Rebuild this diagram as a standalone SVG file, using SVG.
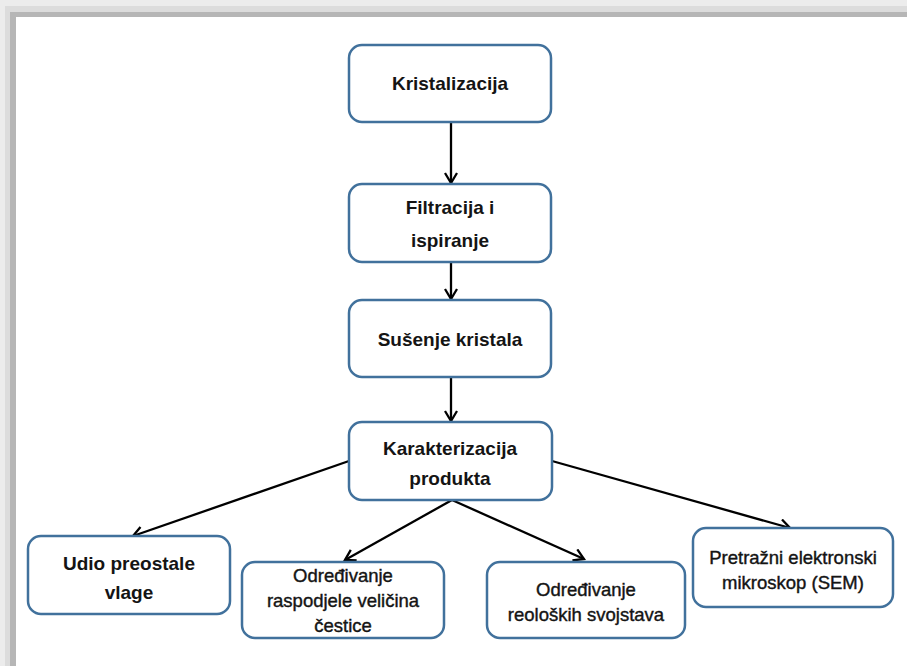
<svg xmlns="http://www.w3.org/2000/svg" width="907" height="666" viewBox="0 0 907 666">
<defs>
<style>
.box{fill:#fff;stroke:#41719c;stroke-width:2.5}
.t{font-family:"Liberation Sans",Arial,sans-serif;font-size:19px;font-weight:bold;fill:#141414;text-anchor:middle}
.s{font-family:"Liberation Sans",Arial,sans-serif;font-size:18.5px;fill:#141414;stroke:#141414;stroke-width:0.4;text-anchor:middle}
.c{fill:none;stroke:#000;stroke-width:2.3}
</style>
<marker id="ah" markerUnits="userSpaceOnUse" markerWidth="16" markerHeight="16" refX="11" refY="7" orient="auto">
<path d="M1,1 L11,7 L1,13" fill="none" stroke="#000" stroke-width="2.3"/>
</marker>
</defs>
<rect width="907" height="666" fill="#fff"/>
<g id="frame">
<rect x="0" y="0" width="907" height="6" fill="#ececec"/>
<rect x="5" y="6" width="902" height="6" fill="#dcdcdc"/>
<rect x="10" y="12" width="897" height="5" fill="#b6b6b6"/>
<rect x="0" y="6" width="5" height="660" fill="#ececec"/>
<rect x="5" y="12" width="5" height="654" fill="#dcdcdc"/>
<rect x="10" y="17" width="6" height="649" fill="#b6b6b6"/>
</g>
<g id="connectors">
<line class="c" x1="451" y1="122" x2="451" y2="183" marker-end="url(#ah)"/>
<line class="c" x1="451" y1="262" x2="451" y2="299" marker-end="url(#ah)"/>
<line class="c" x1="451" y1="377" x2="451" y2="421" marker-end="url(#ah)"/>
<line class="c" x1="349" y1="461" x2="133" y2="536" marker-end="url(#ah)"/>
<line class="c" x1="452" y1="500" x2="345" y2="560" marker-end="url(#ah)"/>
<line class="c" x1="452" y1="500" x2="584" y2="559" marker-end="url(#ah)"/>
<line class="c" x1="552" y1="461" x2="790" y2="528" marker-end="url(#ah)"/>
</g>
<g id="n1"><rect class="box" x="349" y="45" width="202" height="77" rx="13"/><text class="t" x="450" y="90">Kristalizacija</text></g>
<g id="n2"><rect class="box" x="349" y="184" width="202" height="78" rx="13"/><text class="t" x="450" y="214">Filtracija i</text><text class="t" x="450" y="247">ispiranje</text></g>
<g id="n3"><rect class="box" x="349" y="300" width="202" height="77" rx="13"/><text class="t" x="450" y="346">Sušenje kristala</text></g>
<g id="n4"><rect class="box" x="349" y="422" width="203" height="78" rx="13"/><text class="t" x="450" y="455">Karakterizacija</text><text class="t" x="450" y="485">produkta</text></g>
<g id="n5"><rect class="box" x="28" y="536" width="202" height="78" rx="13"/><text class="t" x="129" y="570">Udio preostale</text><text class="t" x="129" y="599">vlage</text></g>
<g id="n6"><rect class="box" x="242" y="562" width="202" height="76" rx="13"/><text class="s" x="343" y="582">Određivanje</text><text class="s" x="343" y="607">raspodjele veličina</text><text class="s" x="343" y="632">čestice</text></g>
<g id="n7"><rect class="box" x="487" y="562" width="198" height="76" rx="13"/><text class="s" x="586" y="596">Određivanje</text><text class="s" x="586" y="621">reoloških svojstava</text></g>
<g id="n8"><rect class="box" x="693" y="528" width="200" height="79" rx="13"/><text class="s" x="793" y="564">Pretražni elektronski</text><text class="s" x="793" y="589">mikroskop (SEM)</text></g>
</svg>
